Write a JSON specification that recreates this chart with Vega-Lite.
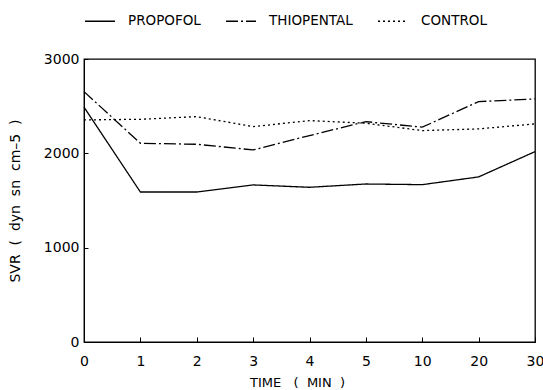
{
  "$schema": "https://vega.github.io/schema/vega-lite/v6.json",
  "width": 451,
  "height": 283,
  "autosize": "none",
  "padding": {"left": 84, "top": 59, "right": 8, "bottom": 48},
  "background": "white",
  "config": {
    "view": {"stroke": "black", "strokeWidth": 1.3},
    "font": "DejaVu Sans"
  },
  "data": {
    "values": [
      {"t": 0, "g": "PROPOFOL", "v": 2490},
      {"t": 1, "g": "PROPOFOL", "v": 1590},
      {"t": 2, "g": "PROPOFOL", "v": 1590},
      {"t": 3, "g": "PROPOFOL", "v": 1665},
      {"t": 4, "g": "PROPOFOL", "v": 1640},
      {"t": 5, "g": "PROPOFOL", "v": 1675},
      {"t": 10, "g": "PROPOFOL", "v": 1668},
      {"t": 20, "g": "PROPOFOL", "v": 1750},
      {"t": 30, "g": "PROPOFOL", "v": 2018},
      {"t": 0, "g": "THIOPENTAL", "v": 2654},
      {"t": 1, "g": "THIOPENTAL", "v": 2107},
      {"t": 2, "g": "THIOPENTAL", "v": 2096},
      {"t": 3, "g": "THIOPENTAL", "v": 2036},
      {"t": 4, "g": "THIOPENTAL", "v": 2188},
      {"t": 5, "g": "THIOPENTAL", "v": 2336},
      {"t": 10, "g": "THIOPENTAL", "v": 2277},
      {"t": 20, "g": "THIOPENTAL", "v": 2548},
      {"t": 30, "g": "THIOPENTAL", "v": 2577},
      {"t": 0, "g": "CONTROL", "v": 2354},
      {"t": 1, "g": "CONTROL", "v": 2361},
      {"t": 2, "g": "CONTROL", "v": 2389},
      {"t": 3, "g": "CONTROL", "v": 2283},
      {"t": 4, "g": "CONTROL", "v": 2347},
      {"t": 5, "g": "CONTROL", "v": 2319},
      {"t": 10, "g": "CONTROL", "v": 2241},
      {"t": 20, "g": "CONTROL", "v": 2259},
      {"t": 30, "g": "CONTROL", "v": 2312}
    ]
  },
  "mark": {"type": "line", "color": "black", "strokeWidth": 1.3},
  "encoding": {
    "x": {
      "field": "t",
      "type": "ordinal",
      "scale": {"type": "point", "padding": 0},
      "axis": {
        "title": "TIME \u00a0 ( \u00a0MIN \u00a0)",
        "labelAngle": 0,
        "labelFontSize": 14,
        "labelColor": "black",
        "titleFontSize": 13,
        "titleFontWeight": "normal",
        "titleColor": "black",
        "titleX": 213,
        "titlePadding": 8,
        "tickSize": -5,
        "tickColor": "black",
        "domainColor": "black",
        "labelPadding": 17,
        "grid": false
      }
    },
    "y": {
      "field": "v",
      "type": "quantitative",
      "scale": {"domain": [0, 3000], "nice": false},
      "axis": {
        "title": "SVR \u00a0( \u00a0dyn \u00a0sn \u00a0cm\u20135 \u00a0)",
        "values": [0, 1000, 2000, 3000],
        "format": "d",
        "labelFontSize": 14,
        "labelColor": "black",
        "titleFontSize": 14,
        "titleFontWeight": "normal",
        "titleColor": "black",
        "tickSize": -4,
        "tickColor": "black",
        "domainColor": "black",
        "labelPadding": 9,
        "titleX": -62,
        "grid": false
      }
    },
    "strokeDash": {
      "field": "g",
      "type": "nominal",
      "scale": {
        "domain": ["PROPOFOL", "THIOPENTAL", "CONTROL"],
        "range": [[1, 0], [12, 3, 2, 3], [2, 3]]
      },
      "legend": {
        "title": null,
        "orient": "none",
        "legendX": 0,
        "legendY": -54,
        "direction": "horizontal",
        "symbolType": "stroke",
        "symbolSize": 900,
        "symbolStrokeColor": "black",
        "symbolStrokeWidth": 1.3,
        "labelFontSize": 13.5,
        "labelColor": "black",
        "labelOffset": 12,
        "columnPadding": 22
      }
    }
  }
}
